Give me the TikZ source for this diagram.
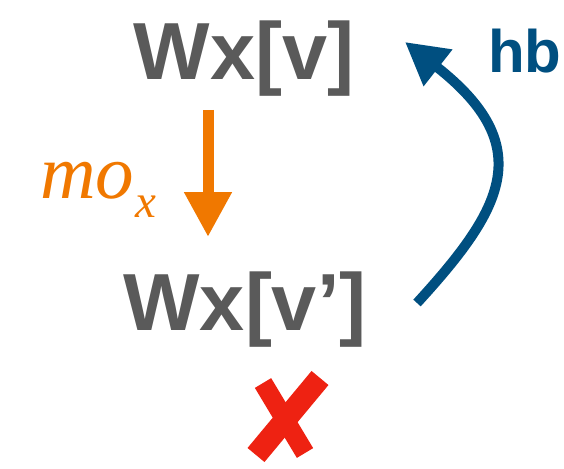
\documentclass[tikz,border=0pt]{standalone}
\usepackage{fontspec}
\setmainfont{Liberation Sans}
\newfontfamily\serifit{Liberation Serif}
\usetikzlibrary{arrows.meta}
\definecolor{txtgray}{HTML}{5A5A5A}
\definecolor{moorange}{HTML}{F07800}
\definecolor{hbblue}{HTML}{004F80}
\definecolor{crossred}{HTML}{EE2212}
\tikzset{
  wlabel/.style={inner sep=0pt, anchor=base, text=txtgray, font=\fontsize{81}{81}\selectfont\bfseries},
  moarrow/.style={draw=moorange, line width=11pt, -{Triangle[length=45pt,width=45pt]}},
  hbarrow/.style={draw=hbblue, line width=10pt, -{Triangle[length=42pt,width=44pt]}},
  crossstroke/.style={draw=crossred, line cap=butt},
}
\begin{document}
\begin{tikzpicture}[x=1pt,y=-1pt]
\useasboundingbox (0,0) rectangle (564,468);
\node[wlabel] (top) at (244,80) {Wx[v]};
\node[wlabel] (bot) at (245,330) {Wx[v’]};
\node[inner sep=0pt, anchor=base west, text=moorange] (mo) at (40,198)
  {\fontsize{77}{77}\selectfont\serifit\itshape mo\kern1pt\raisebox{-19pt}{\fontsize{47}{47}\selectfont x}};
\node[inner sep=0pt, anchor=base west, text=hbblue, font=\fontsize{60}{60}\selectfont\bfseries] (hb) at (488,73) {hb};
\coordinate (o1) at (208,110);
\coordinate (o2) at (208,237);
\draw[moarrow] (o1) -- (o2);
\coordinate (b1) at (417,303);
\coordinate (b2) at (405,42);
\draw[hbarrow] (b1) .. controls (502,210) and (539,147) .. (b2);
\draw[crossstroke, line width=19pt] (263,383) -- (305,453);
\draw[crossstroke, line width=22pt] (320,378) -- (256,455);
\end{tikzpicture}
\end{document}
